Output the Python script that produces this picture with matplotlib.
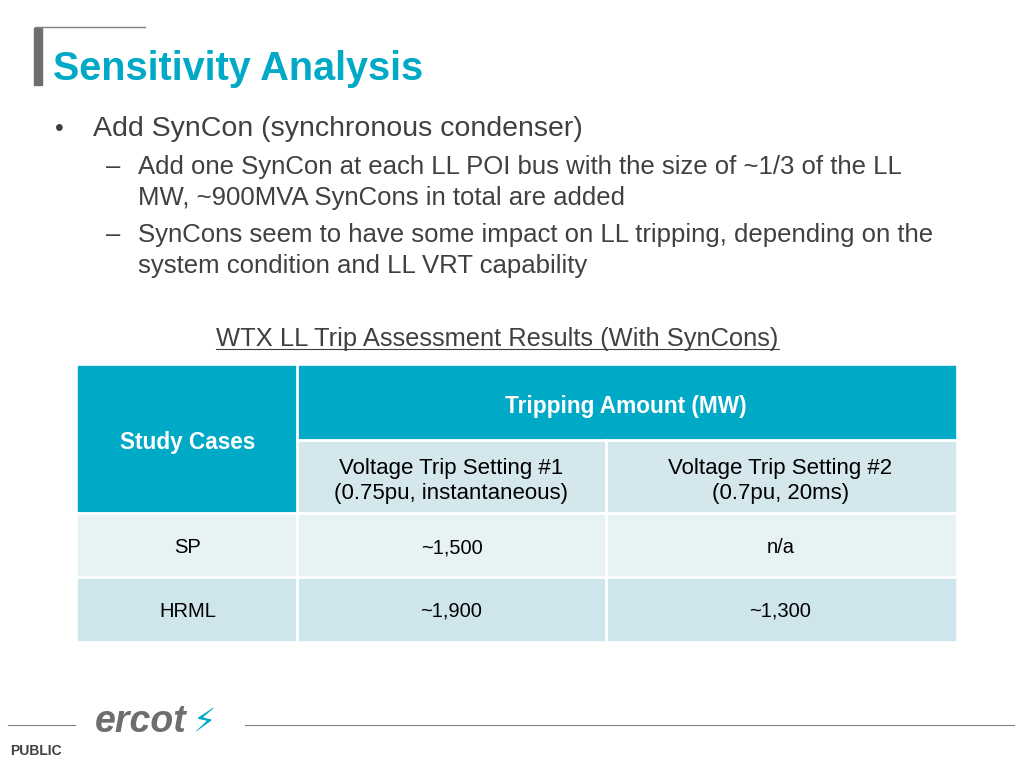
import matplotlib
matplotlib.use("Agg")
import matplotlib.pyplot as plt
from matplotlib.patches import Rectangle

plt.rcParams["font.family"] = "Liberation Sans"

# ---------------------------
# Slide content
# ---------------------------
title = "Sensitivity Analysis"
bullet = "Add SynCon (synchronous condenser)"
sub_bullets = [
    ["Add one SynCon at each LL POI bus with the size of ~1/3 of the LL",
     "MW, ~900MVA SynCons in total are added"],
    ["SynCons seem to have some impact on LL tripping, depending on the",
     "system condition and LL VRT capability"],
]
table_title = "WTX LL Trip Assessment Results (With SynCons)"
header_left = "Study Cases"
header_top = "Tripping Amount (MW)"
settings = ["Voltage Trip Setting #1\n(0.75pu, instantaneous)",
            "Voltage Trip Setting #2\n(0.7pu, 20ms)"]
cases = ["SP", "HRML"]
setting1 = ["~1,500", "~1,900"]
setting2 = ["n/a", "~1,300"]

TEAL = "#00A9C6"
TEXT = "#404040"
ROW_COLORS = ["#E7F2F5", "#CFE5EC"]
SUBHEAD = "#D3E7ED"
DY = 3  # small vertical correction for centred text

fig = plt.figure(figsize=(10.24, 7.68), dpi=100)
ax = fig.add_axes([0, 0, 1, 1])
ax.set_xlim(0, 1024)
ax.set_ylim(768, 0)
ax.axis("off")

# title decoration
ax.plot([35, 145], [27, 27], color="#808080", lw=1)
ax.add_patch(Rectangle((34, 28), 8, 57, color="#6D6E70"))
ax.text(53, 66 + DY, title, fontsize=28.5, fontweight="bold", color=TEAL, va="center")

# bullets
ax.text(55, 126 + DY, "•", fontsize=18, color=TEXT, va="center")
ax.text(93, 126 + DY, bullet, fontsize=20.5, color=TEXT, va="center")
for y, lines in zip([164, 232], sub_bullets):
    ax.text(106, y + DY, "–", fontsize=18.5, color=TEXT, va="center")
    ax.text(138, y + DY, lines[0], fontsize=18.5, color=TEXT, va="center")
    ax.text(138, y + 31 + DY, lines[1], fontsize=18.5, color=TEXT, va="center")

# table title
ax.text(497, 336 + DY, table_title, fontsize=18.4, color=TEXT, ha="center", va="center")
ax.plot([216, 779], [349, 349], color=TEXT, lw=0.8)

# table geometry
x0, x1, x2, x3 = 78, 297, 606, 955
y_top, y_mid, y_head = 366, 440, 513
row_h = 63.5

ax.add_patch(Rectangle((x0, y_top), x1 - x0, y_head - y_top, color=TEAL))
ax.add_patch(Rectangle((x1, y_top), x3 - x1, y_mid - y_top, color=TEAL))
ax.add_patch(Rectangle((x1, y_mid), x3 - x1, y_head - y_mid, color=SUBHEAD))
ax.text((x0 + x1) / 2, 440 + DY, header_left, fontsize=16.3, fontweight="bold",
        color="white", ha="center", va="center")
ax.text((x1 + x3) / 2, 404 + DY, header_top, fontsize=16.3, fontweight="bold",
        color="white", ha="center", va="center")
for cx, s in zip([(x1 + x2) / 2, (x2 + x3) / 2], settings):
    ax.text(cx, 478 + DY, s, fontsize=16, color="black", ha="center", va="center",
            linespacing=1.25)

for i, (case, v1, v2) in enumerate(zip(cases, setting1, setting2)):
    ry = y_head + i * row_h
    ax.add_patch(Rectangle((x0, ry), x3 - x0, row_h, color=ROW_COLORS[i]))
    cy = ry + row_h / 2 + DY
    ax.text((x0 + x1) / 2, cy, case, fontsize=14.5, color="black", ha="center", va="center")
    ax.text((x1 + x2) / 2, cy, v1, fontsize=14.5, color="black", ha="center", va="center")
    ax.text((x2 + x3) / 2, cy, v2, fontsize=14.5, color="black", ha="center", va="center")

# grid lines
for y in [y_head, y_head + row_h]:
    ax.plot([x0, x3], [y, y], color="white", lw=2)
ax.plot([x1, x3], [y_mid, y_mid], color="white", lw=2)
ax.plot([x1, x1], [y_top, y_head + 2 * row_h], color="white", lw=2)
ax.plot([x2, x2], [y_mid, y_head + 2 * row_h], color="white", lw=2)

# footer
ax.plot([8, 75], [725, 725], color="#808080", lw=0.8)
ax.plot([245, 1014], [725, 725], color="#808080", lw=0.8)
ax.text(95, 722, "ercot", fontsize=27, fontstyle="italic", fontweight="bold",
        color="#6D6E70", va="center")
ax.text(192, 722, "⚡", fontsize=24, color=TEAL, va="center", fontfamily="DejaVu Sans")
ax.text(10, 751, "PUBLIC", fontsize=10, fontweight="bold", color="#404040", va="center")

fig.savefig("out.png", dpi=100)
